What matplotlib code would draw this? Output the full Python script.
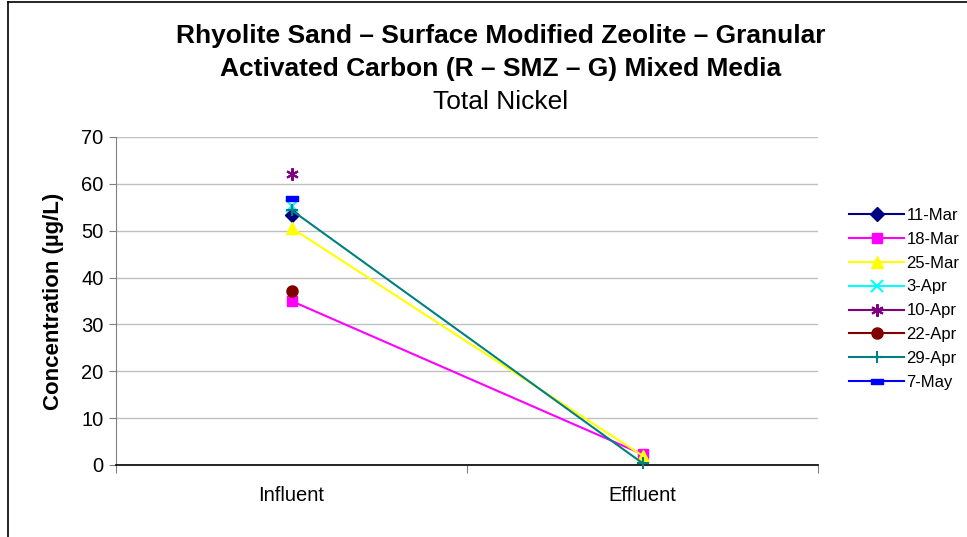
import numpy as np
import matplotlib
matplotlib.use("Agg")
import matplotlib.pyplot as plt
from matplotlib.path import Path
from matplotlib.lines import Line2D

plt.rcParams['font.family'] = ['Liberation Sans', 'DejaVu Sans']

categories = ["Influent", "Effluent"]
series_names = ["11-Mar", "18-Mar", "25-Mar", "3-Apr", "10-Apr", "22-Apr", "29-Apr", "7-May"]
v_11mar = [53.3, np.nan]
v_18mar = [35.0, 2.3]
v_25mar = [50.6, 2.0]
v_3apr = [55.3, np.nan]
v_10apr = [62.0, np.nan]
v_22apr = [37.1, np.nan]
v_29apr = [54.4, 0.4]
v_7may = [57.0, np.nan]
values = [v_11mar, v_18mar, v_25mar, v_3apr, v_10apr, v_22apr, v_29apr, v_7may]

dash = Path([(-1, -0.45), (1, -0.45), (1, 0.45), (-1, 0.45), (-1, -0.45)],
            [Path.MOVETO, Path.LINETO, Path.LINETO, Path.LINETO, Path.CLOSEPOLY])

styles = [
    dict(color="#000080", marker="D", ms=7),
    dict(color="#FF00FF", marker="s", ms=7),
    dict(color="#FFFF00", marker="^", ms=9),
    dict(color="#00FFFF", marker="x", ms=8, mew=1.5),
    dict(color="#800080", marker=(6, 2, 0), ms=9, mew=1.5),
    dict(color="#800000", marker="o", ms=8),
    dict(color="#008080", marker="+", ms=9, mew=1.5),
    dict(color="#0000FF", marker=dash, ms=8),
]

fig = plt.figure(figsize=(9.67, 5.37), dpi=100)
ax = fig.add_axes([116/967, 1 - 465/537, (818-116)/967, (465-137)/537])

x = np.arange(len(categories))
handles = []
for name, vals, st in zip(series_names, values, styles):
    st = dict(st)
    mew = st.pop("mew", 1.0)
    h, = ax.plot(x, vals, color=st["color"], marker=st["marker"], markersize=st["ms"],
                 markeredgewidth=mew, linewidth=1.5, label=name, clip_on=False, zorder=3)
    handles.append(h)

ax.set_xlim(-0.5, 1.5)
ax.set_ylim(0, 70)
ax.set_yticks(np.arange(0, 71, 10))
ax.yaxis.grid(True, color="#C0C0C0", linewidth=1)
ax.set_axisbelow(True)
for s in ["top", "right"]:
    ax.spines[s].set_visible(False)
ax.spines["left"].set_color("#808080")
ax.spines["bottom"].set_color("black")
ax.spines["bottom"].set_linewidth(1.2)
ax.set_xticks([-0.5, 0.5, 1.5], minor=False)
ax.set_xticklabels([])
ax.set_xticks(x, minor=True)
ax.set_xticklabels(categories, minor=True, fontsize=14.5)
ax.tick_params(axis="x", which="major", length=6, color="#808080", direction="out")
ax.tick_params(axis="x", which="minor", length=0, pad=15)
ax.tick_params(axis="y", length=5, color="#808080", labelsize=14.5, pad=4)
ax.set_ylabel("Concentration (µg/L)", fontsize=16, fontweight="bold", labelpad=12)

cx = 501/967
fig.text(cx, 1 - 36/537, "Rhyolite Sand – Surface Modified Zeolite – Granular",
         ha="center", va="center", fontsize=19, fontweight="bold")
fig.text(cx, 1 - 69/537, "Activated Carbon (R – SMZ – G) Mixed Media",
         ha="center", va="center", fontsize=19, fontweight="bold")
fig.text(cx, 1 - 102/537, "Total Nickel",
         ha="center", va="center", fontsize=19)

leg = fig.legend(handles=handles, loc="upper left", bbox_to_anchor=(849/967, 1 - 208/537),
                 frameon=False, fontsize=12, handlelength=3.3, labelspacing=0.53,
                 handletextpad=0.15, borderpad=0, borderaxespad=0)

# figure border (left and top)
fig.add_artist(Line2D([8/967, 8/967], [0, 1 - 2/537], transform=fig.transFigure, color="black", lw=1.2))
fig.add_artist(Line2D([8/967, 1], [1 - 2/537, 1 - 2/537], transform=fig.transFigure, color="black", lw=1.2))

fig.savefig("out.png", dpi=100)
